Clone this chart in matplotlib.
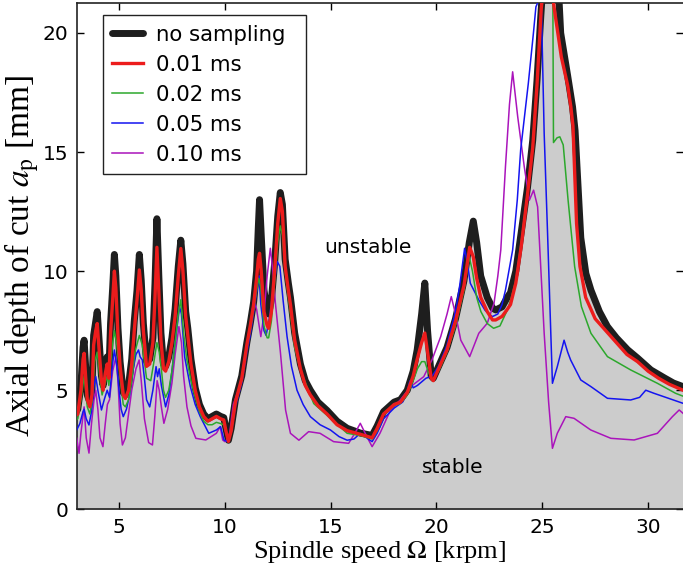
import matplotlib
matplotlib.use("Agg")
import matplotlib.pyplot as plt

# ---------------- data ----------------
black_x = [2.9, 3.05, 3.2, 3.3, 3.35, 3.42, 3.5, 3.62, 3.72, 3.8, 3.9, 3.97, 4.05, 4.17, 4.25, 4.35, 4.44, 4.52,
           4.6, 4.7, 4.78, 4.85, 4.95, 5.05, 5.2, 5.3, 5.45, 5.6, 5.72, 5.85, 5.96, 6.05, 6.15, 6.3, 6.45, 6.6,
           6.7, 6.79, 6.88, 6.98, 7.1, 7.2, 7.35, 7.5, 7.65, 7.8, 7.92, 8.02, 8.15, 8.25, 8.4, 8.6, 8.8, 9.0,
           9.2, 9.4, 9.6, 9.8, 9.95, 10.05, 10.17, 10.3, 10.5, 10.8, 11.04, 11.2, 11.36, 11.5, 11.58, 11.64,
           11.72, 11.85, 12.0, 12.07, 12.2, 12.35, 12.5, 12.62, 12.72, 12.85, 13.0, 13.1, 13.3, 13.57, 13.8,
           14.04, 14.4, 14.83, 15.3, 15.78, 16.4, 16.96, 17.2, 17.5, 18.0, 18.3, 18.62, 18.9, 19.09, 19.3,
           19.45, 19.58, 19.75, 19.85, 20.1, 20.5, 20.9, 21.3, 21.55, 21.74, 21.9, 22.09, 22.4, 22.65, 22.8,
           23.1, 23.35, 23.5, 23.75, 24.0, 24.3, 24.55, 24.75, 24.93, 25.1, 25.4, 25.7, 25.87, 26.2, 26.43,
           26.55, 26.69, 26.82, 27.06, 27.3, 27.7, 28.08, 28.5, 29.03, 29.5, 30.13, 30.8, 31.2, 31.65]
black_y = [4.0, 4.2, 5.2, 6.8, 7.1, 6.0, 4.8, 4.5, 5.0, 7.3, 7.9, 8.3, 7.2, 5.6, 5.2, 5.9, 6.4, 5.7,
           7.8, 9.3, 10.7, 9.8, 7.6, 6.2, 4.9, 4.8, 5.2, 6.3, 7.9, 9.2, 10.7, 9.6, 7.8, 6.2, 6.3, 7.2,
           9.5, 12.2, 9.8, 7.4, 6.1, 6.0, 6.4, 7.2, 8.4, 10.2, 11.3, 10.3, 8.3, 7.6, 6.3, 5.1, 4.4, 4.0,
           3.8, 3.9, 4.0, 3.9, 3.85, 3.4, 2.9, 3.4, 4.6, 5.6, 7.0, 7.8, 8.7, 10.0, 11.8, 13.0,
           11.5, 9.2, 8.3, 8.2, 8.8, 10.3, 12.3, 13.3, 12.8, 10.5, 9.5, 8.9, 7.4, 6.1, 5.4,
           5.0, 4.5, 4.15, 3.7, 3.4, 3.2, 3.1, 3.5, 4.1, 4.5, 4.6, 5.0, 5.8, 6.7, 8.2,
           9.5, 7.5, 5.6, 5.5, 6.0, 6.8, 8.0, 9.6, 11.2, 12.1, 11.2, 9.8, 8.9, 8.45, 8.37,
           8.5, 8.9, 9.1, 10.0, 11.6, 13.5, 15.5, 18.0, 20.7, 23.0, 24.0, 23.0, 20.0, 18.2, 16.9,
           15.9, 13.6, 11.4, 9.9, 9.2, 8.3, 7.67, 7.2, 6.7, 6.35, 5.85, 5.5, 5.3, 5.15]

red_x = [2.9, 3.05, 3.2, 3.3, 3.35, 3.42, 3.5, 3.62, 3.72, 3.8, 3.9, 3.97, 4.05, 4.17, 4.25, 4.35, 4.44, 4.52,
         4.6, 4.7, 4.78, 4.85, 4.95, 5.05, 5.2, 5.3, 5.45, 5.6, 5.72, 5.85, 5.96, 6.05, 6.15, 6.3, 6.45, 6.6,
         6.7, 6.79, 6.88, 6.98, 7.1, 7.2, 7.35, 7.5, 7.65, 7.8, 7.92, 8.02, 8.15, 8.25, 8.4, 8.6, 8.8, 9.0,
         9.2, 9.4, 9.6, 9.8, 9.95, 10.05, 10.17, 10.3, 10.5, 10.8, 11.04, 11.2, 11.36, 11.5, 11.58, 11.64,
         11.72, 11.85, 12.0, 12.07, 12.2, 12.35, 12.5, 12.62, 12.72, 12.85, 13.0, 13.1, 13.3, 13.57, 13.8,
         14.04, 14.4, 14.83, 15.3, 15.78, 16.4, 16.96, 17.2, 17.5, 18.0, 18.3, 18.62, 18.9, 19.09, 19.3,
         19.45, 19.58, 19.75, 19.85, 20.1, 20.5, 20.9, 21.3, 21.57, 21.74, 21.9, 22.09, 22.4, 22.65, 22.8,
         23.1, 23.35, 23.5, 23.75, 24.0, 24.3, 24.55, 24.75, 24.95, 25.1, 25.35, 25.57, 25.9, 26.2, 26.35,
         26.45, 26.52, 26.62, 26.78, 27.05, 27.5, 28.0, 28.5, 29.0, 29.5, 30.0, 30.5, 31.0, 31.65]
red_y = [3.9, 4.0, 5.0, 6.3, 6.55, 5.6, 4.6, 4.3, 4.8, 6.9, 7.5, 7.8, 6.8, 5.4, 5.0, 5.7, 6.1, 5.5,
         7.4, 8.8, 10.0, 9.3, 7.3, 6.0, 4.8, 4.65, 5.0, 6.1, 7.5, 8.8, 10.05, 9.2, 7.5, 6.0, 6.1, 7.0,
         8.9, 11.0, 9.2, 7.1, 5.9, 5.8, 6.2, 7.0, 8.1, 9.8, 10.95, 10.0, 8.1, 7.3, 6.1, 5.0, 4.3, 3.9,
         3.7, 3.8, 3.9, 3.8, 3.75, 3.3, 2.85, 3.3, 4.5, 5.5, 6.9, 7.7, 8.6, 9.7, 10.5, 10.75,
         10.0, 8.3, 7.7, 7.6, 8.3, 10.0, 12.0, 13.05, 12.5, 10.2, 9.2, 8.6, 7.1, 5.9, 5.2,
         4.8, 4.35, 4.0, 3.55, 3.3, 3.15, 3.0, 3.4, 4.0, 4.4, 4.5, 4.9, 5.6, 6.3, 7.0,
         7.4, 6.6, 5.5, 5.4, 5.9, 6.7, 7.9, 9.4, 11.0, 10.6, 9.7, 8.9, 8.3, 7.95, 7.95,
         8.1, 8.4, 8.6, 9.5, 11.0, 13.2, 15.2, 17.8, 21.0, 22.5, 22.5, 21.0, 19.0, 17.8, 16.9,
         16.1, 14.4, 12.0, 10.2, 8.9, 8.0, 7.5, 7.0, 6.5, 6.2, 5.8, 5.5, 5.25, 5.0]

green_x = [2.9, 3.05, 3.2, 3.35, 3.5, 3.62, 3.72, 3.85, 3.97, 4.1, 4.2, 4.35, 4.44, 4.52, 4.65, 4.78, 4.9,
           5.05, 5.2, 5.3, 5.45, 5.6, 5.75, 5.96, 6.1, 6.3, 6.5, 6.65, 6.79, 6.9, 7.0, 7.1, 7.2, 7.35, 7.5,
           7.65, 7.8, 7.92, 8.05, 8.2, 8.4, 8.6, 8.8, 9.0, 9.2, 9.4, 9.6, 9.8, 9.95, 10.05, 10.17, 10.3,
           10.5, 10.8, 11.04, 11.2, 11.36, 11.5, 11.6, 11.7, 11.85, 12.0, 12.07, 12.2, 12.35, 12.5, 12.62,
           12.72, 12.85, 13.1, 13.3, 13.57, 14.2, 14.99, 15.78, 16.4, 16.96, 17.2, 17.5, 18.0, 18.3, 18.62,
           18.9, 19.1, 19.3, 19.45, 19.6, 19.8, 20.1, 20.5, 20.9, 21.3, 21.55, 21.7, 21.9, 22.1, 22.4, 22.7,
           23.0, 23.35, 23.51, 23.75, 24.0, 24.3, 24.55, 24.75, 24.95, 25.1, 25.4, 25.5, 25.53, 25.7, 25.83,
           25.99, 26.22, 26.53, 26.85, 27.3, 28.08, 29.18, 30.44, 31.3, 31.65]
green_y = [3.7, 3.8, 4.6, 5.6, 4.3, 4.0, 4.5, 6.2, 6.6, 5.5, 4.8, 5.3, 5.6, 5.2, 6.6, 7.5, 6.9,
           5.5, 4.4, 4.3, 4.6, 5.4, 6.6, 7.3, 6.9, 5.5, 5.4, 6.2, 7.0, 6.6, 5.9, 5.0, 4.7, 5.0, 5.8,
           7.0, 8.2, 8.8, 7.4, 6.3, 5.4, 4.7, 4.1, 3.7, 3.55, 3.55, 3.65, 3.6, 3.55, 3.2, 2.85, 3.2,
           4.4, 5.4, 6.8, 7.5, 8.4, 9.2, 9.7, 9.3, 7.7, 7.2, 7.2, 7.9, 9.5, 11.2, 11.9,
           11.5, 10.0, 8.2, 6.8, 5.85, 4.44, 3.82, 3.19, 3.1, 2.95, 3.3, 3.95, 4.35, 4.45, 4.8,
           5.4, 5.9, 6.2, 6.2, 5.8, 5.4, 5.8, 6.6, 7.7, 9.2, 10.6, 10.0, 8.9, 8.3, 7.8, 7.6,
           7.7, 8.37, 8.8, 9.6, 11.2, 13.3, 15.4, 18.0, 21.0, 22.3, 22.3, 21.5, 15.4, 15.6, 15.64,
           15.3, 12.98, 10.19, 8.51, 7.39, 6.41, 5.85, 5.29, 4.87, 4.75]

blue_x = [2.9, 3.0, 3.15, 3.3, 3.35, 3.45, 3.58, 3.7, 3.82, 3.9, 4.0, 4.17, 4.3, 4.44, 4.55, 4.68, 4.78,
          4.9, 5.0, 5.1, 5.2, 5.35, 5.5, 5.65, 5.8, 5.92, 6.0, 6.1, 6.2, 6.3, 6.45, 6.6, 6.75, 6.82, 6.9,
          7.0, 7.2, 7.35, 7.5, 7.65, 7.86, 7.95, 8.1, 8.37, 8.6, 8.84, 9.24, 9.6, 9.8, 9.96, 10.1, 10.3,
          10.5, 10.8, 11.04, 11.2, 11.4, 11.55, 11.62, 11.7, 11.85, 11.95, 12.1, 12.3, 12.48, 12.6, 12.75,
          12.94, 13.15, 13.41, 13.7, 14.04, 14.5, 14.99, 15.4, 15.78, 16.1, 16.4, 16.7, 16.96, 17.2, 17.5,
          18.0, 18.4, 18.6, 18.75, 18.9, 19.1, 19.3, 19.5, 19.8, 20.1, 20.5, 20.9, 21.1, 21.33, 21.45, 21.6,
          22.0, 22.3, 22.64, 22.9, 23.1, 23.26, 23.6, 23.82, 23.98, 24.34, 24.58, 24.7, 24.85, 24.95, 25.09,
          25.25, 25.4, 25.48, 25.71, 26.03, 26.2, 26.34, 26.82, 27.3, 28.08, 29.18, 29.6, 29.89, 30.28,
          31.0, 31.65]
blue_y = [3.2, 3.33, 3.6, 4.1, 4.2, 3.8, 3.54, 4.1, 5.2, 5.57, 5.0, 4.17, 4.6, 5.0, 4.7, 6.0, 6.69,
          6.0, 5.0, 4.2, 3.89, 4.2, 4.8, 5.8, 6.5, 6.69, 6.4, 6.27, 5.5, 4.6, 4.3, 5.0, 5.99, 5.57, 5.9,
          5.2, 4.3, 4.8, 5.8, 7.0, 8.5, 8.2, 6.4, 5.15, 4.4, 3.89, 3.19, 3.33, 3.47, 2.91, 2.85, 3.2,
          4.3, 5.3, 6.6, 7.3, 8.5, 9.4, 9.8, 8.6, 7.5, 7.3, 8.0, 9.3, 10.4, 10.2, 8.8,
          7.25, 6.0, 5.0, 4.4, 3.89, 3.55, 3.33, 3.05, 2.9, 2.95, 3.19, 3.0, 2.84, 3.2, 3.8,
          4.25, 4.5, 4.9, 5.4, 5.1, 5.2, 5.35, 5.5, 5.6, 6.0, 6.9, 8.3, 9.4, 10.96, 10.4, 9.49,
          8.79, 8.35, 8.09, 8.2, 8.6, 9.2, 10.89, 13.0, 15.1, 17.88, 19.98, 21.1, 21.4, 21.4, 15.78,
          11.59, 7.39, 5.29, 5.99, 7.1, 6.6, 6.27, 5.43, 5.15, 4.66, 4.59, 4.7, 5.0, 4.87,
          4.65, 4.45]

purple_x = [2.9, 3.0, 3.11, 3.2, 3.35, 3.45, 3.58, 3.7, 3.82, 3.9, 4.0, 4.1, 4.24, 4.35, 4.45, 4.55, 4.7,
            4.85, 4.95, 5.05, 5.16, 5.3, 5.45, 5.6, 5.8, 5.95, 6.05, 6.2, 6.4, 6.58, 6.7, 6.8, 6.9, 7.0,
            7.12, 7.3, 7.5, 7.65, 7.83, 7.95, 8.05, 8.21, 8.4, 8.63, 9.1, 9.6, 9.78, 9.9, 10.0, 10.2, 10.4,
            10.8, 11.04, 11.2, 11.36, 11.5, 11.7, 11.85, 12.0, 12.15, 12.27, 12.39, 12.63, 12.87, 13.1, 13.5,
            13.96, 14.5, 15.14, 15.85, 16.15, 16.4, 16.71, 16.96, 17.33, 17.83, 18.3, 18.78, 19.4, 19.8, 20.2,
            20.5, 20.7, 20.9, 21.15, 21.57, 22.0, 22.4, 22.72, 22.9, 23.04, 23.26, 23.45, 23.6, 23.84, 24.15,
            24.39, 24.59, 24.78, 25.09, 25.3, 25.48, 25.71, 26.11, 26.5, 27.29, 28.24, 29.34, 30.44, 31.15,
            31.47, 31.65]
purple_y = [2.6, 3.0, 2.35, 3.2, 4.3, 3.0, 2.36, 3.6, 4.6, 5.0, 4.2, 3.0, 2.63, 3.6, 4.4, 4.6, 5.8,
            6.4, 5.4, 3.6, 2.7, 3.0, 4.0, 5.0, 5.9, 6.27, 5.4, 3.8, 2.8, 2.7, 4.0, 5.4, 5.0, 4.3,
            3.61, 4.2, 5.3, 6.5, 7.67, 7.0, 5.6, 4.3, 3.5, 2.98, 2.91, 3.19, 3.47, 2.91, 2.84, 3.0, 4.4,
            5.4, 6.8, 7.6, 8.79, 8.4, 7.25, 8.2, 9.8, 10.96, 10.0, 8.65, 6.55, 4.17, 3.19, 2.9,
            3.26, 3.19, 2.84, 2.77, 3.2, 3.61, 3.05, 2.63, 3.19, 4.17, 4.6, 5.15, 5.57, 6.3, 7.25,
            8.2, 8.93, 8.2, 7.1, 6.41, 7.39, 7.81, 8.65, 9.8, 10.89, 14.38, 17.0, 18.37, 16.48, 14.38,
            12.98, 13.4, 12.7, 7.39, 4.5, 2.56, 3.19, 3.89, 3.82, 3.33, 2.98, 2.91, 3.19, 3.89,
            4.17, 4.03]

series_labels = ["no sampling", "0.01 ms", "0.02 ms", "0.05 ms", "0.10 ms"]
x_ticks = [5, 10, 15, 20, 25, 30]
y_ticks = [0, 5, 10, 15, 20]

# ---------------- figure ----------------
plt.rcParams['font.family'] = ['DejaVu Sans']
plt.rcParams['mathtext.fontset'] = 'stix'

fig = plt.figure(figsize=(6.83, 5.75), dpi=100)
ax = fig.add_axes([0.1123, 0.1143, 0.8877, 0.8805])

ax.fill_between(black_x, 0, black_y, color='#cccccc', lw=0, zorder=1)

h_black, = ax.plot(black_x, black_y, color='#1e1e1e', lw=5.0, solid_capstyle='round',
                   solid_joinstyle='round', zorder=2)
h_purple, = ax.plot(purple_x, purple_y, color='#aa14bb', lw=1.1, zorder=3)
h_blue, = ax.plot(blue_x, blue_y, color='#1414f0', lw=1.1, zorder=4)
h_green, = ax.plot(green_x, green_y, color='#2ca82c', lw=1.1, zorder=5)
h_red, = ax.plot(red_x, red_y, color='#ec1c1c', lw=2.4, solid_joinstyle='round', zorder=6)

ax.set_xlim(3, 31.65)
ax.set_ylim(0, 21.26)
ax.set_xticks(x_ticks)
ax.set_yticks(y_ticks)
ax.tick_params(direction='in', length=5, width=1, top=True, right=True, labelsize=14.5, pad=6)
for s in ['left', 'bottom', 'top']:
    ax.spines[s].set_linewidth(1.2)
    ax.spines[s].set_color('#222222')
ax.spines['right'].set_visible(False)

ax.set_xlabel(r"Spindle speed $\Omega$ [krpm]", family='Liberation Serif', fontsize=19, labelpad=2)
ax.set_ylabel(r"Axial depth of cut $a_{\mathrm{p}}$ [mm]", family='Liberation Serif', fontsize=24, labelpad=1)

ax.text(16.74, 11.0, "unstable", fontsize=14.5, ha='center', va='center', zorder=7)
ax.text(20.76, 1.74, "stable", fontsize=14.5, ha='center', va='center', zorder=7)

leg = ax.legend([h_black, h_red, h_green, h_blue, h_purple], series_labels,
                loc='upper left', bbox_to_anchor=(0.043, 0.476, 0.335, 0.5), mode='expand',
                borderaxespad=0,
                prop={'family': 'DejaVu Sans', 'size': 15.3}, fancybox=False, framealpha=1,
                edgecolor='#222222', handlelength=1.45, handletextpad=0.6, labelspacing=0.47,
                borderpad=0.45)
leg.get_frame().set_linewidth(1.0)
leg.set_zorder(10)

fig.savefig("out.png", dpi=100)
